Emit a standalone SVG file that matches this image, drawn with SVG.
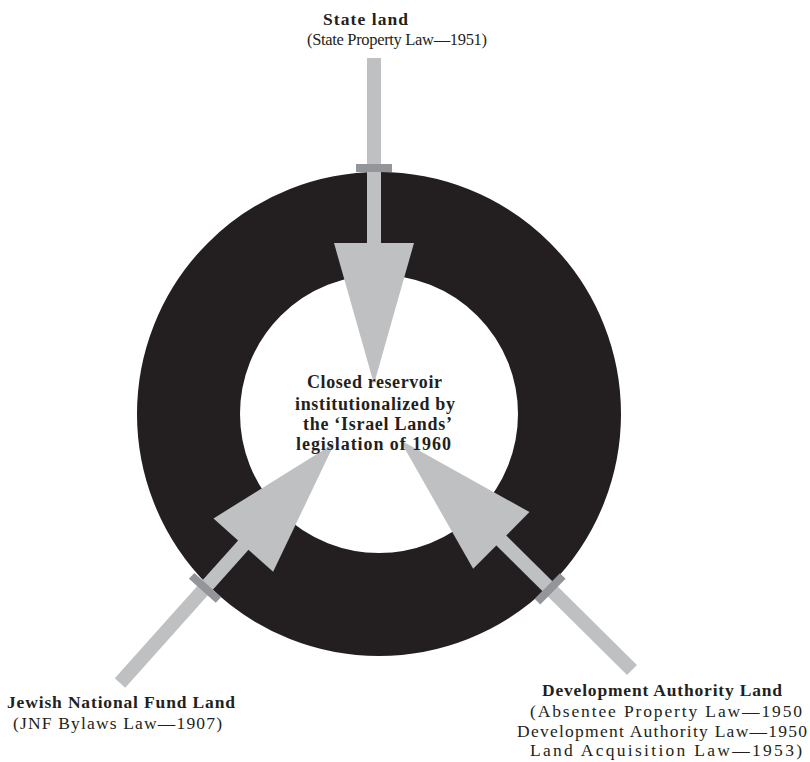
<svg xmlns="http://www.w3.org/2000/svg" width="810" height="762" viewBox="0 0 810 762">
<defs>
<style>
.t{font-family:"Liberation Serif","Times New Roman",serif;font-size:17.5px;fill:#231f20}
.b{font-weight:bold}
.c{font-size:18px}
.s{font-size:16.5px}
.shaft,.head{fill:#bfc0c2}
.bar{fill:#939598}
</style>
</defs>
<rect width="810" height="762" fill="#ffffff"/>
<g id="reservoir">
<circle cx="379" cy="414" r="190.5" fill="none" stroke="#231f20" stroke-width="103"/>
</g>
<g id="connectors">
<g id="arrow-state" transform="translate(374,58) rotate(90)">
<rect class="shaft" x="0" y="-7" width="186" height="14"/>
<polygon class="head" points="185,-40 326,0 185,40"/>
<rect class="bar" x="106" y="-18" width="8" height="36"/>
</g>
<g id="arrow-jnf" transform="translate(120,683) rotate(-48.2)">
<rect class="shaft" x="0" y="-7" width="186" height="14"/>
<polygon class="head" points="185,-40 322,0 185,40"/>
<rect class="bar" x="123.6" y="-18" width="8" height="36"/>
</g>
<g id="arrow-dev" transform="translate(632,670) rotate(-135.25)">
<rect class="shaft" x="0" y="-7" width="185" height="14"/>
<polygon class="head" points="184,-40 327,0 184,40"/>
<rect class="bar" x="111.3" y="-18" width="8" height="36"/>
</g>
</g>
<g id="center-label">
<text class="t b c" x="307" y="388" textLength="135" lengthAdjust="spacing">Closed reservoir</text>
<text class="t b c" x="295" y="409.5" textLength="160" lengthAdjust="spacing">institutionalized by</text>
<text class="t b c" x="303" y="430" textLength="149" lengthAdjust="spacing">the ‘Israel Lands’</text>
<text class="t b c" x="296" y="450" textLength="155" lengthAdjust="spacing">legislation of 1960</text>
</g>
<g id="state-land">
<text class="t b" x="323" y="25" textLength="85" lengthAdjust="spacing">State land</text>
<text class="t s" x="307" y="45" textLength="180" lengthAdjust="spacing">(State Property Law—1951)</text>
</g>
<g id="jnf-land">
<text class="t b" x="7" y="708" textLength="228" lengthAdjust="spacing">Jewish National Fund Land</text>
<text class="t" x="13" y="729" textLength="209" lengthAdjust="spacing">(JNF Bylaws Law—1907)</text>
</g>
<g id="development-land">
<text class="t b" x="542" y="696" textLength="240" lengthAdjust="spacing">Development Authority Land</text>
<text class="t" x="530" y="717" textLength="272" lengthAdjust="spacing">(Absentee Property Law—1950</text>
<text class="t" x="517" y="737" textLength="290" lengthAdjust="spacing">Development Authority Law—1950</text>
<text class="t" x="530" y="756" textLength="272" lengthAdjust="spacing">Land Acquisition Law—1953)</text>
</g>
</svg>
